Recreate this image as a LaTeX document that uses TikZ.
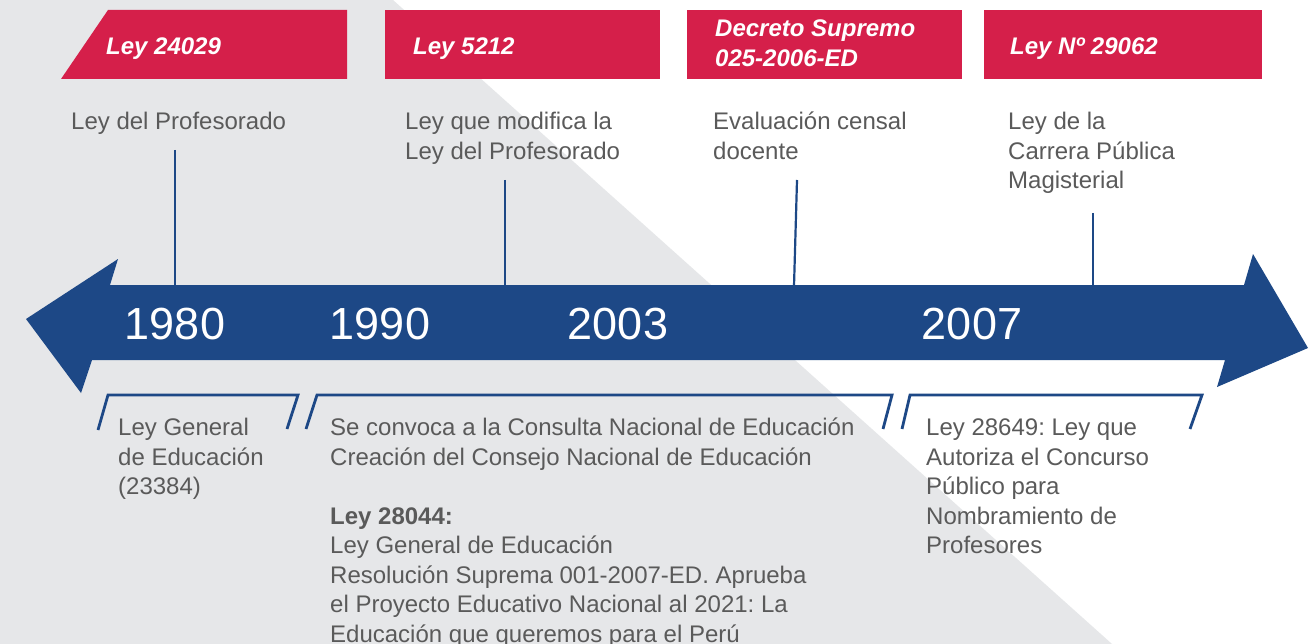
\documentclass[tikz,border=0pt]{standalone}
\usepackage{fontspec}
\setmainfont{Liberation Sans}
\frenchspacing
\definecolor{bggray}{RGB}{230,231,233}
\definecolor{crimsonred}{RGB}{213,31,74}
\definecolor{navyblue}{RGB}{29,72,134}
\definecolor{textgray}{RGB}{90,90,90}
\begin{document}
\begin{tikzpicture}[x=1pt,y=-1pt,
  redbox/.style={fill=crimsonred, draw=none, inner sep=0pt, anchor=north west},
  redlabel/.style={anchor=north west, inner sep=0pt, align=left, text=white,
    font=\fontsize{24}{30}\selectfont\bfseries\itshape},
  desc/.style={anchor=north west, inner sep=0pt, align=left, text=textgray,
    font=\fontsize{24}{29.5}\selectfont\frenchspacing},
  yearlabel/.style={anchor=base, inner sep=0pt, text=white,
    font=\fontsize{45}{54}\selectfont},
  tick/.style={draw=navyblue, line width=2.2pt},
  bracket/.style={draw=navyblue, line width=2.8pt, line join=miter},
  timeline/.style={fill=navyblue, draw=none}
]
\useasboundingbox (0,0) rectangle (1313,644);
% background
\fill[white] (0,0) rectangle (1313,644);
\fill[bggray] (0,0) -- (393,0) -- (1112,644) -- (0,644) -- cycle;

% red header boxes
\fill[crimsonred] (108,10) -- (347,10) -- (347,79) -- (61,79) -- cycle;
\node[redbox, minimum width=275pt, minimum height=69pt] (b2) at (385,10) {};
\node[redbox, minimum width=275pt, minimum height=69pt] (b3) at (687,10) {};
\node[redbox, minimum width=278pt, minimum height=69pt] (b4) at (984,10) {};

\node[redlabel] (l1) at (106,33) {\strut Ley 24029};
\node[redlabel] (l2) at (413,33) {\strut Ley 5212};
\node[redlabel] (l3) at (715,15) {\strut Decreto Supremo\\025-2006-ED};
\node[redlabel] (l4) at (1010,33) {\strut Ley Nº 29062};

% upper descriptions
\node[desc] (u1) at (71,109) {\strut Ley del Profesorado};
\node[desc] (u2) at (405,109) {\strut Ley que modifica la\\Ley del Profesorado};
\node[desc] (u3) at (713,109) {\strut Evaluación censal\\docente};
\node[desc] (u4) at (1008,109) {\strut Ley de la\\Carrera Pública\\Magisterial};

% timeline arrow
\fill[timeline] (26,319) -- (118,259) -- (110,285) -- (1244,285) -- (1253,254)
  -- (1308,348) -- (1217,387) -- (1225,360) -- (92,360) -- (81,393) -- cycle;

% ticks
\coordinate (k1t) at (175,150); \coordinate (k1b) at (175,286);
\coordinate (k2t) at (505,180); \coordinate (k2b) at (505,286);
\coordinate (k3t) at (797,180); \coordinate (k3b) at (794,286);
\coordinate (k4t) at (1093,213); \coordinate (k4b) at (1093,286);
\draw[tick] (k1t) -- (k1b);
\draw[tick] (k2t) -- (k2b);
\draw[tick] (k3t) -- (k3b);
\draw[tick] (k4t) -- (k4b);

% years
\node[yearlabel] (y1) at (175,339) {1980};
\node[yearlabel] (y2) at (380,339) {1990};
\node[yearlabel] (y3) at (618,339) {2003};
\node[yearlabel] (y4) at (972,339) {2007};

% brackets
\draw[bracket] (98,430) -- (108,395) -- (298,395) -- (287,429);
\draw[bracket] (306,429) -- (317,395) -- (892,395) -- (883,429);
\draw[bracket] (902,429) -- (910,395) -- (1202,395) -- (1190,429);

% lower descriptions
\node[desc] (d1) at (118,415) {\strut Ley General\\de Educación\\(23384)};
\node[desc] (d2) at (330,415) {\strut Se convoca a la Consulta Nacional de Educación\\
  Creación del Consejo Nacional de Educación\\[29.5pt]
  \textbf{Ley 28044:}\\
  Ley General de Educación\\
  Resolución Suprema 001-2007-ED. Aprueba\\
  el Proyecto Educativo Nacional al 2021: La\\
  Educación que queremos para el Perú};
\node[desc] (d3) at (926,415) {\strut Ley 28649: Ley que\\Autoriza el Concurso\\Público para\\Nombramiento de\\Profesores};
\end{tikzpicture}
\end{document}
